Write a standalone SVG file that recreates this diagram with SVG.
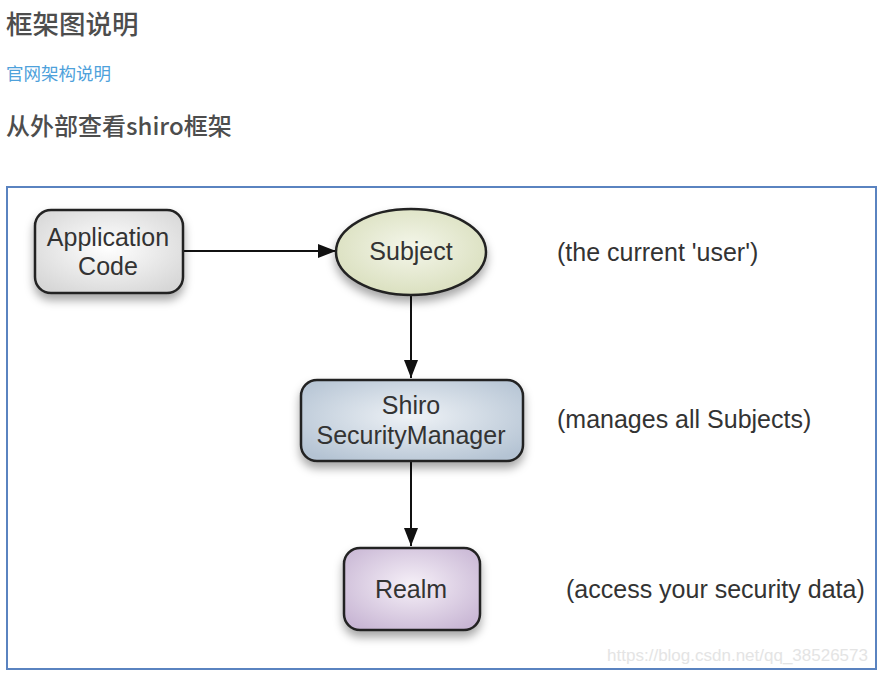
<svg xmlns="http://www.w3.org/2000/svg" width="882" height="678" viewBox="0 0 882 678">
<style>
.h{font-family:"Noto Sans CJK SC","Noto Sans",sans-serif;font-weight:500;fill:#4d4d4d}
.lk{font-family:"Noto Sans CJK SC","Noto Sans",sans-serif;fill:#4ea1db;font-size:17.5px}
.t{font-family:"Liberation Sans",Arial,sans-serif;font-size:25px;fill:#333}
.nd{stroke:#222;stroke-width:2.5}
.c{stroke:#111;stroke-width:2;fill:none}
</style>
<defs>
<marker id="ahb" viewBox="0 0 10 10" refX="10" refY="5" markerWidth="18" markerHeight="14" markerUnits="userSpaceOnUse" orient="auto" preserveAspectRatio="none">
<path d="M0,0 L10,5 L0,10 z" fill="#111"/>
</marker>
<filter id="sh" x="-20%" y="-20%" width="140%" height="160%">
<feDropShadow dx="0" dy="6" stdDeviation="5" flood-color="#000" flood-opacity="0.35"/>
</filter>
<radialGradient id="gA" cx="50%" cy="45%" r="65%"><stop offset="0" stop-color="#ffffff"/><stop offset="1" stop-color="#d6d6d6"/></radialGradient>
<radialGradient id="gS" cx="50%" cy="45%" r="65%"><stop offset="0" stop-color="#f4f6ea"/><stop offset="1" stop-color="#d6dcb8"/></radialGradient>
<radialGradient id="gM" cx="50%" cy="45%" r="65%"><stop offset="0" stop-color="#eef2f6"/><stop offset="1" stop-color="#b4c3d3"/></radialGradient>
<radialGradient id="gR" cx="50%" cy="45%" r="65%"><stop offset="0" stop-color="#f6f0f8"/><stop offset="1" stop-color="#c8b6d4"/></radialGradient>
</defs>
<rect width="882" height="678" fill="#fff"/>
<text class="h" x="6" y="34" font-size="26.5">框架图说明</text>
<text class="lk" x="6" y="80">官网架构说明</text>
<text class="h" x="6" y="135" font-size="24">从外部查看shiro框架</text>
<rect x="7" y="187" width="869" height="482" fill="#fff" stroke="#5a83c0" stroke-width="2"/>
<g id="connectors">
<line class="c" x1="184" y1="251" x2="336" y2="251" marker-end="url(#ahb)"/>
<line class="c" x1="411" y1="295" x2="411" y2="378" marker-end="url(#ahb)"/>
<line class="c" x1="411" y1="462" x2="411" y2="546" marker-end="url(#ahb)"/>
</g>
<g id="app">
<rect class="nd" x="35" y="210" width="148" height="83" rx="16" fill="url(#gA)" filter="url(#sh)"/>
<text class="t" x="108" y="246" text-anchor="middle">Application</text>
<text class="t" x="108" y="275" text-anchor="middle">Code</text>
</g>
<g id="subject">
<ellipse class="nd" cx="411" cy="252" rx="75" ry="43" fill="url(#gS)" filter="url(#sh)"/>
<text class="t" x="411" y="260" text-anchor="middle">Subject</text>
</g>
<g id="manager">
<rect class="nd" x="301" y="380" width="222" height="81" rx="16" fill="url(#gM)" filter="url(#sh)"/>
<text class="t" x="411" y="414" text-anchor="middle">Shiro</text>
<text class="t" x="411" y="444" text-anchor="middle">SecurityManager</text>
</g>
<g id="realm">
<rect class="nd" x="344" y="548" width="136" height="82" rx="16" fill="url(#gR)" filter="url(#sh)"/>
<text class="t" x="411" y="598" text-anchor="middle">Realm</text>
</g>
<g id="labels">
<text class="t" x="557" y="261">(the current 'user')</text>
<text class="t" x="557" y="428">(manages all Subjects)</text>
<text class="t" x="566" y="598">(access your security data)</text>
</g>
<text x="868" y="661" text-anchor="end" font-family="Liberation Sans,Arial,sans-serif" font-size="17" fill="#e4e4e4">https://blog.csdn.net/qq_38526573</text>
</svg>
